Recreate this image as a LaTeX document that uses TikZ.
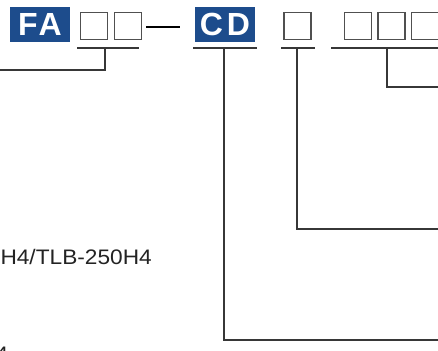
\documentclass[tikz,border=0pt]{standalone}
\usepackage{fontspec}
\setmainfont{Liberation Sans}
\definecolor{codeblue}{RGB}{29,76,140}
\definecolor{boxgray}{RGB}{80,80,80}
\definecolor{linegray}{RGB}{55,55,55}
\definecolor{txtgray}{RGB}{35,35,35}
\begin{document}
\begin{tikzpicture}[x=1pt,y=-1pt,
  codebox/.style={fill=codeblue,text=white,inner sep=0pt,minimum height=35pt,font=\fontsize{32}{32}\selectfont\bfseries},
  slot/.style={draw=boxgray,line width=1.2pt,minimum width=27pt,minimum height=27pt,inner sep=0pt},
  uline/.style={draw=linegray,line width=1.1pt},
  conn/.style={draw=linegray,line width=1.1pt},
  lbl/.style={text=txtgray,font=\fontsize{21}{21}\selectfont,inner sep=0pt,xscale=1.08,transform shape}]
\useasboundingbox (0,0) rectangle (438,350);
\clip (0,0) rectangle (438,350);
% code boxes
\node[codebox,minimum width=60pt] (fa) at (40,24.5) {F\kern1pt A};
\node[codebox,minimum width=60pt] (cd) at (225,24.5) {C\kern4pt D};
% slots
\node[slot] (s1) at (94,26) {};
\node[slot] (s2) at (128,26) {};
\node[slot] (s3) at (297.5,26) {};
\node[slot] (s4) at (358,26) {};
\node[slot] (s5) at (391.5,26) {};
\node[slot] (s6) at (425,26) {};
% dash
\coordinate (d1) at (146,27);
\coordinate (d2) at (180,27);
\draw[line width=1.4pt,black] (d1) -- (d2);
% underlines
\coordinate (u1a) at (77,48); \coordinate (u1b) at (139,48);
\coordinate (u2a) at (193,48); \coordinate (u2b) at (257,48);
\coordinate (u3a) at (281,48); \coordinate (u3b) at (315,48);
\coordinate (u4a) at (331,48); \coordinate (u4b) at (440,48);
\draw[uline] (u1a) -- (u1b);
\draw[uline] (u2a) -- (u2b);
\draw[uline] (u3a) -- (u3b);
\draw[uline] (u4a) -- (u4b);
% connector points
\coordinate (c1) at (105,48); \coordinate (e1) at (-2,70);
\coordinate (c2) at (224,48); \coordinate (e2) at (440,340);
\coordinate (c3) at (297,48); \coordinate (e3) at (440,229);
\coordinate (c4) at (387,48); \coordinate (e4) at (440,87);
\draw[conn] (c1) |- (e1);
\draw[conn] (c2) |- (e2);
\draw[conn] (c3) |- (e3);
\draw[conn] (c4) |- (e4);
% labels
\node[lbl,anchor=base east] (t1) at (152,264.5) {H4/TLB-250H4};
\node[lbl,anchor=base west] (t2) at (-4.5,361) {4};
\end{tikzpicture}
\end{document}
